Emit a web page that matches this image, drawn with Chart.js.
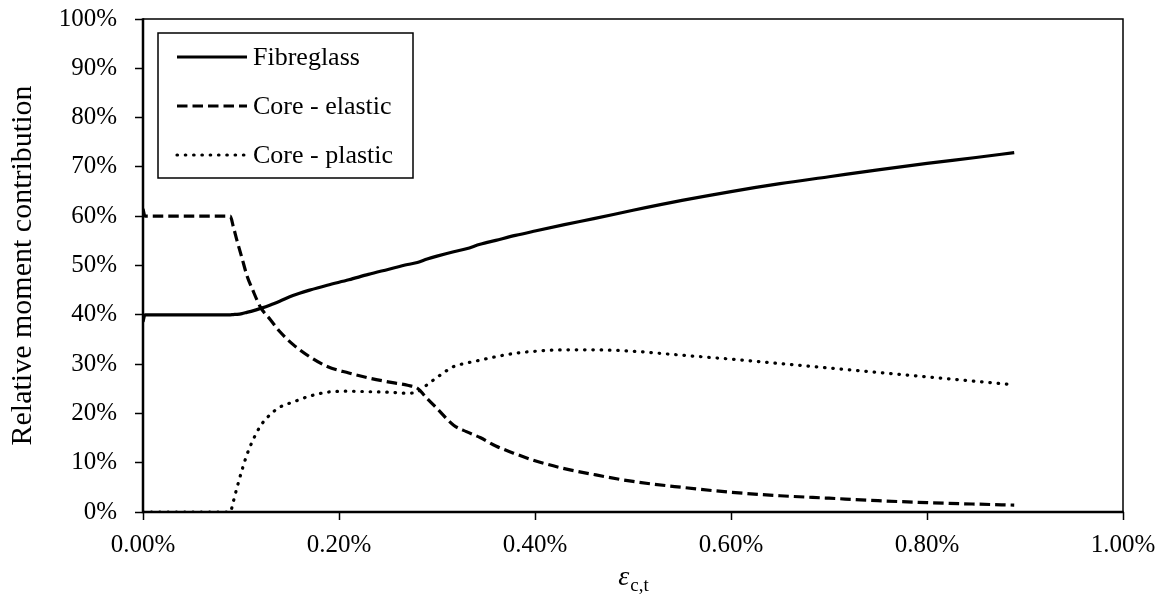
<!DOCTYPE html>
<html>
<head>
<meta charset="utf-8">
<script src="https://cdn.jsdelivr.net/npm/chart.js@4/dist/chart.umd.min.js"></script>
<style>
  html, body { margin: 0; padding: 0; background: #fff; }
  #wrap { width: 1166px; height: 601px; position: relative; }
</style>
</head>
<body>
<div id="wrap"><canvas id="chart" width="1166" height="601"></canvas></div>
<script>
// Strain (in %) at which each contribution is sampled
const strain = [0, 0.002, 0.05, 0.089, 0.092, 0.096, 0.101, 0.106, 0.112, 0.12, 0.13, 0.14, 0.153, 0.17, 0.188,
  0.21, 0.23, 0.25, 0.27, 0.28, 0.29, 0.3, 0.317, 0.33, 0.344, 0.36, 0.38, 0.4,
  0.43, 0.46, 0.5, 0.55, 0.6, 0.65, 0.7, 0.75, 0.8, 0.85, 0.889];

// Relative moment contribution of each part (%)
const fibreglass = [38.6, 40, 40, 40, 40.05, 40.1, 40.25, 40.5, 40.8, 41.3, 42, 42.8, 43.9, 45, 46,
  47.1, 48.2, 49.2, 50.2, 50.6, 51.3, 51.9, 52.8, 53.4, 54.3, 55.1, 56.1, 57,
  58.3, 59.5, 61.2, 63.2, 65.0, 66.6, 68.0, 69.4, 70.7, 71.9, 72.9];
const coreElastic = [61.5, 60, 60, 60, 58, 55, 51.5, 48, 45, 41.5, 39, 36.5, 34, 31.5, 29.5,
  28.2, 27.2, 26.4, 25.7, 25.1, 23, 21, 17.6, 16.3, 15.1, 13.4, 11.8, 10.4,
  8.8, 7.6, 6.2, 5.0, 4.0, 3.3, 2.8, 2.3, 1.9, 1.6, 1.4];
const corePlastic = [0, 0, 0, 0, 2, 5, 8.5, 11.6, 14.5, 17.5, 19.8, 21.3, 22.3, 23.5, 24.3,
  24.5, 24.4, 24.3, 24.1, 24.4, 25.8, 27.3, 29.5, 30.2, 30.8, 31.5, 32.2, 32.6,
  32.9, 32.9, 32.6, 31.8, 31.0, 30.1, 29.2, 28.3, 27.4, 26.5, 25.8];

const seriesLabels = ['Fibreglass', 'Core - elastic', 'Core - plastic'];
const yAxisTitle = 'Relative moment contribution';
const xAxisSymbol = 'ε';
const xAxisSubscript = 'c,t';

const SERIF = "'Liberation Serif', 'Times New Roman', serif";

const toPoints = (ys) => strain.map((x, i) => ({ x: x, y: ys[i] }));

const lineStyles = [
  { borderDash: [], borderCapStyle: 'butt' },
  { borderDash: [10.5, 5], borderCapStyle: 'butt' },
  { borderDash: [0.5, 7.8], borderCapStyle: 'round' }
];

// Box legend drawn in the upper-left corner of the plot
const boxLegend = {
  id: 'boxLegend',
  afterDatasetsDraw(chart) {
    const ctx = chart.ctx;
    const x0 = 158, y0 = 33, w = 255, h = 145;
    ctx.save();
    ctx.fillStyle = '#fff';
    ctx.fillRect(x0, y0, w, h);
    ctx.strokeStyle = '#000';
    ctx.lineWidth = 1.5;
    ctx.strokeRect(x0, y0, w, h);
    chart.data.datasets.forEach((ds, i) => {
      const y = 57 + i * 49;
      ctx.beginPath();
      ctx.lineWidth = ds.borderWidth;
      ctx.setLineDash(ds.borderDash || []);
      ctx.lineCap = ds.borderCapStyle || 'butt';
      ctx.moveTo(177, y);
      ctx.lineTo(247, y);
      ctx.stroke();
      ctx.setLineDash([]);
      ctx.fillStyle = '#000';
      ctx.font = '26px ' + SERIF;
      ctx.textBaseline = 'middle';
      ctx.textAlign = 'left';
      ctx.fillText(ds.label, 253, y + 1);
    });
    ctx.restore();
  }
};

// Axis lines, thin frame on the top and right, and the x-axis symbol with subscript
const frameAndTitle = {
  id: 'frameAndTitle',
  afterDraw(chart) {
    const ctx = chart.ctx;
    const a = chart.chartArea;
    ctx.save();
    // keep the strip above the plot clean
    ctx.fillStyle = '#fff';
    ctx.fillRect(a.left - 4, 0, 8, a.top - 2);

    ctx.strokeStyle = '#000';
    ctx.lineWidth = 1.5;
    ctx.beginPath();
    ctx.moveTo(a.left, a.top);
    ctx.lineTo(a.right, a.top);
    ctx.lineTo(a.right, a.bottom);
    ctx.stroke();

    ctx.lineWidth = 2.5;
    ctx.beginPath();
    ctx.moveTo(a.left, a.top - 0.75);
    ctx.lineTo(a.left, a.bottom);
    ctx.lineTo(a.right + 0.75, a.bottom);
    ctx.stroke();

    ctx.fillStyle = '#000';
    ctx.textBaseline = 'alphabetic';
    ctx.textAlign = 'left';
    ctx.font = 'italic 28px ' + SERIF;
    const w1 = ctx.measureText(xAxisSymbol).width;
    ctx.font = '19px ' + SERIF;
    const w2 = ctx.measureText(xAxisSubscript).width;
    const cx = (a.left + a.right) / 2;
    const start = cx - (w1 + w2) / 2;
    ctx.font = 'italic 28px ' + SERIF;
    ctx.fillText(xAxisSymbol, start, 585);
    ctx.font = '19px ' + SERIF;
    ctx.fillText(xAxisSubscript, start + w1 + 1, 591);
    ctx.restore();
  }
};

const tickGrid = {
  drawOnChartArea: false,
  drawTicks: true,
  tickLength: 8,
  tickColor: '#000',
  tickWidth: 1.5,
  color: '#000'
};

new Chart(document.getElementById('chart'), {
  type: 'line',
  data: {
    datasets: [fibreglass, coreElastic, corePlastic].map((ys, i) => ({
      label: seriesLabels[i],
      data: toPoints(ys),
      borderColor: '#000',
      backgroundColor: '#000',
      borderWidth: 3.2,
      borderDash: lineStyles[i].borderDash,
      borderCapStyle: lineStyles[i].borderCapStyle,
      borderJoinStyle: 'round',
      pointRadius: 0,
      cubicInterpolationMode: 'monotone',
      fill: false
    }))
  },
  options: {
    responsive: false,
    animation: false,
    devicePixelRatio: 1,
    layout: { padding: { left: 0, right: 43, top: 19, bottom: 0 } },
    plugins: {
      legend: { display: false },
      tooltip: { enabled: false }
    },
    scales: {
      x: {
        type: 'linear',
        min: 0,
        max: 1,
        afterFit(scale) {
          scale.height = 89;
          scale.paddingLeft = 0;
          scale.paddingRight = 0;
        },
        ticks: {
          stepSize: 0.2,
          color: '#000',
          padding: 10,
          font: { family: SERIF, size: 25 },
          maxRotation: 0,
          callback: (v) => v.toFixed(2) + '%'
        },
        grid: tickGrid,
        border: { display: false }
      },
      y: {
        min: 0,
        max: 100,
        afterFit(scale) {
          scale.width = 143;
          scale.paddingTop = 0;
          scale.paddingBottom = 0;
        },
        ticks: {
          stepSize: 10,
          color: '#000',
          padding: 18,
          font: { family: SERIF, size: 25 },
          callback: (v) => v + '%'
        },
        grid: tickGrid,
        border: { display: false },
        title: {
          display: true,
          text: yAxisTitle,
          color: '#000',
          font: { family: SERIF, size: 30 },
          padding: { top: 5, bottom: 0 }
        }
      }
    }
  },
  plugins: [boxLegend, frameAndTitle]
});
</script>
</body>
</html>
